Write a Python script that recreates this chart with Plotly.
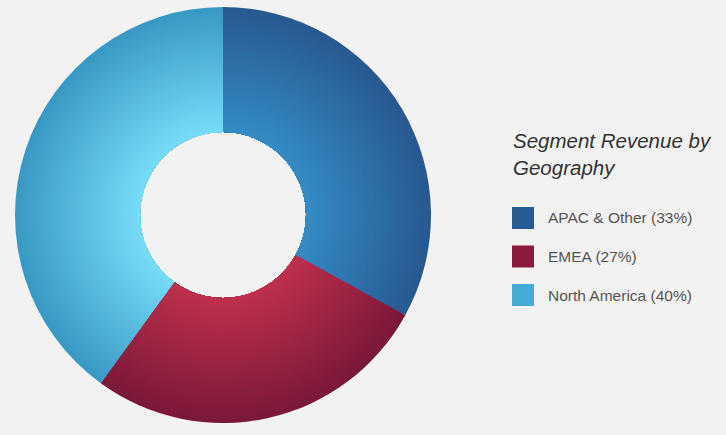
import plotly.graph_objects as go

# ---- data ----
labels = ["APAC & Other", "EMEA", "North America"]
values = [33, 27, 40]
legend_title = "Segment Revenue by<br>Geography"

# ---- style ----
inner_colors = [(52, 140, 196), (190, 48, 76), (118, 220, 247)]
outer_colors = [(40, 88, 145), (122, 24, 56), (56, 152, 196)]
legend_colors = ["#285a94", "#8b1a3c", "#43acd6"]

W, H = 726, 435
cx, cy = 223, 215
r_out, r_hole = 208, 83
N = 36

def mix(a, b, t):
    return "rgb(%d,%d,%d)" % tuple(round(a[i] + (b[i] - a[i]) * t) for i in range(3))

fig = go.Figure()
for k in range(N, 0, -1):
    r = r_hole + (r_out - r_hole) * k / N
    t = (k - 0.5) / N
    cols = [mix(inner_colors[i], outer_colors[i], t) for i in range(len(labels))]
    fig.add_trace(go.Pie(
        labels=labels, values=values, sort=False, direction="clockwise",
        hole=r_hole / r, marker=dict(colors=cols, line=dict(width=0)),
        textinfo="none", hoverinfo="skip", showlegend=False,
        domain=dict(x=[(cx - r) / W, (cx + r) / W],
                    y=[(H - cy - r) / H, (H - cy + r) / H]),
    ))

# legend drawn from data arrays
total = sum(values)
fig.add_annotation(x=511 / W, y=1 - 127 / H, xref="paper", yref="paper",
                   xanchor="left", yanchor="top", align="left", showarrow=False,
                   text="<i>" + legend_title + "</i>",
                   font=dict(family="Liberation Sans, Arial", size=20.5, color="#333333"))
for i, lab in enumerate(labels):
    yc = 218 + i * 38.5
    fig.add_shape(type="rect", xref="paper", yref="paper",
                  x0=512 / W, x1=534 / W, y0=1 - (yc - 11) / H, y1=1 - (yc + 11) / H,
                  fillcolor=legend_colors[i], line=dict(width=0))
    pct = round(values[i] / total * 100)
    fig.add_annotation(x=546 / W, y=1 - yc / H, xref="paper", yref="paper",
                       xanchor="left", yanchor="middle", showarrow=False,
                       text=f"{lab} ({pct}%)",
                       font=dict(family="Liberation Sans, Arial", size=15.5, color="#555555"))

fig.update_layout(width=W, height=H, margin=dict(l=0, r=0, t=0, b=0),
                  paper_bgcolor="#f2f2f2", plot_bgcolor="#f2f2f2")
fig.write_html("out.html", config={"displayModeBar": False},
               post_script="document.body.style.margin='0';document.body.style.background='#f2f2f2';document.body.style.overflow='hidden';")
